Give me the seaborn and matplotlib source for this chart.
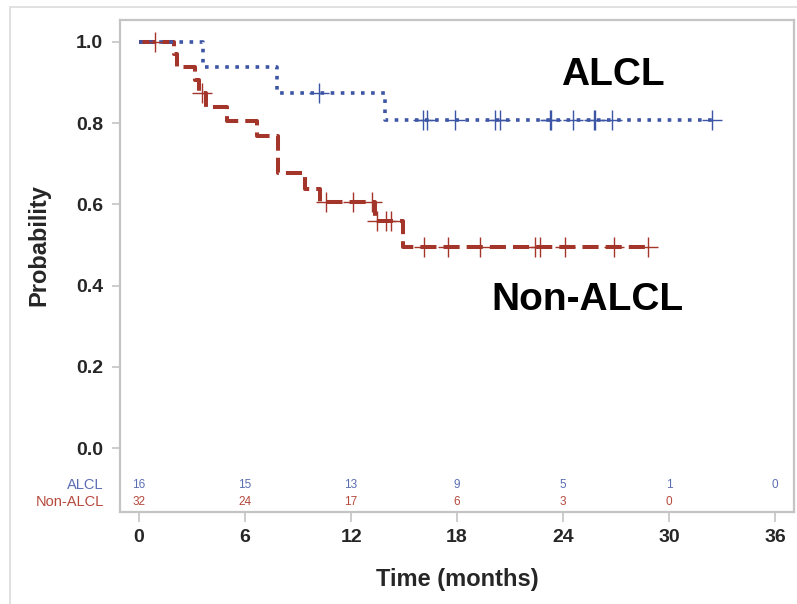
import numpy as np
import pandas as pd
import matplotlib
matplotlib.use("Agg")
import matplotlib.pyplot as plt
import seaborn as sns
from matplotlib.patches import Rectangle

# ---------------- data ----------------
alcl_event_times = [3.6, 7.8, 13.9]
alcl_surv = [0.9375, 0.875, 0.8077]
alcl_censor_times = [10.2, 16.05, 16.3, 17.9, 20.15, 20.45, 23.25, 23.3,
                     24.55, 25.75, 25.8, 26.75, 32.45]

non_event_times = [2.0, 2.15, 3.15, 3.4, 3.8, 4.95, 6.7, 7.85, 9.4, 10.25, 13.36, 14.95]
non_surv = [0.969, 0.9375, 0.906, 0.875, 0.84, 0.804, 0.768, 0.676, 0.638, 0.605, 0.56, 0.495]
non_censor_times = [0.9, 3.55, 10.6, 12.1, 13.17, 13.45, 14.0, 14.25, 16.1, 17.5,
                    19.3, 22.4, 22.7, 24.1, 26.9, 28.8]

risk_times = [0, 6, 12, 18, 24, 30, 36]
alcl_at_risk = [16, 15, 13, 9, 5, 1, 0]
non_at_risk = [32, 24, 17, 6, 3, 0]

groups = ["ALCL", "Non-ALCL"]
x_ticks = [0, 6, 12, 18, 24, 30, 36]
y_ticks = [0.0, 0.2, 0.4, 0.6, 0.8, 1.0]

# ---------------- styling ----------------
BLUE = "#3d55a5"
RED = "#a3352a"
BLUE_TXT = "#5b6db3"
RED_TXT = "#b5493c"
GREY = "#c4c4c4"

sns.set_style("white")
plt.rcParams["font.family"] = ["Liberation Sans", "DejaVu Sans"]


def step_frame(times, surv, censors):
    end = max(censors[-1], times[-1])
    x = [0.0] + list(times) + [end]
    y = [1.0] + list(surv) + [surv[-1]]
    return pd.DataFrame({"time": x, "surv": y})


def censor_frame(times, surv, censors):
    t = np.array(times)
    s = np.array([1.0] + list(surv))
    idx = np.searchsorted(t, np.array(censors), side="right")
    return pd.DataFrame({"time": censors, "surv": s[idx]})


fig = plt.figure(figsize=(7.97, 6.04), dpi=100)
ax = fig.add_axes([120 / 797, 1 - 512 / 604, 674 / 797, 492 / 604])

# outer frame
fig.patches.append(Rectangle((10 / 797, 0 - 0.01), 1.0, 1 - 7 / 604 + 0.01,
                             transform=fig.transFigure, fill=False,
                             edgecolor="#dcdcdc", linewidth=1.2, zorder=0))

a_step = step_frame(alcl_event_times, alcl_surv, alcl_censor_times)
n_step = step_frame(non_event_times, non_surv, non_censor_times)
a_cens = censor_frame(alcl_event_times, alcl_surv, alcl_censor_times)
n_cens = censor_frame(non_event_times, non_surv, non_censor_times)

sns.lineplot(data=n_step, x="time", y="surv", ax=ax, color=RED, linewidth=2.9,
             drawstyle="steps-post", linestyle=(0, (4, 1.75)), estimator=None,
             sort=False)
sns.lineplot(data=a_step, x="time", y="surv", ax=ax, color=BLUE, linewidth=2.6,
             drawstyle="steps-post", linestyle=(0, (1, 1.8)), estimator=None,
             sort=False)
sns.scatterplot(data=n_cens, x="time", y="surv", ax=ax, marker="+", s=200,
                color=RED, linewidth=1.0, zorder=5)
sns.scatterplot(data=a_cens, x="time", y="surv", ax=ax, marker="+", s=200,
                color=BLUE, linewidth=1.0, zorder=5)

ax.set_xlim(-1.08, 37.07)
ax.set_ylim(-0.1567, 1.0534)
ax.set_xticks(x_ticks)
ax.set_yticks(y_ticks)
ax.set_xticklabels([str(v) for v in x_ticks], fontsize=14, fontweight="bold")
ax.set_yticklabels([f"{v:.1f}" for v in y_ticks], fontsize=14, fontweight="bold")
ax.tick_params(axis="x", length=7, width=1.2, color=GREY, pad=5, direction="out",
               bottom=True)
ax.tick_params(axis="y", length=6, width=1.2, color=GREY, pad=6, direction="out",
               left=True)
for sp in ax.spines.values():
    sp.set_color(GREY)
    sp.set_linewidth(1.6)

ax.set_xlabel("Time (months)", fontsize=17, fontweight="bold")
ax.set_ylabel("Probability", fontsize=17, fontweight="bold")
ax.xaxis.set_label_coords(0.5, -0.114)
ax.yaxis.set_label_coords(-0.103, 0.543)

# group labels in plot
ax.text(26.8, 0.918, groups[0], fontsize=28, fontweight="bold", ha="center",
        va="center", color="black")
ax.text(25.35, 0.365, groups[1], fontsize=28, fontweight="bold", ha="center",
        va="center", color="black")

# at-risk table
row_y = [-0.0903, -0.132]
for t, n in zip(risk_times, alcl_at_risk):
    ax.text(t, row_y[0], str(n), fontsize=8.5, color=BLUE_TXT, ha="center", va="center")
for t, n in zip(risk_times, non_at_risk):
    ax.text(t, row_y[1], str(n), fontsize=8.5, color=RED_TXT, ha="center", va="center")
trans = ax.get_yaxis_transform()
ax.text(-0.024, row_y[0], groups[0], transform=trans, fontsize=10.5, color=BLUE_TXT,
        ha="right", va="center")
ax.text(-0.024, row_y[1], groups[1], transform=trans, fontsize=10.5, color=RED_TXT,
        ha="right", va="center")

fig.savefig("out.png", dpi=100)
